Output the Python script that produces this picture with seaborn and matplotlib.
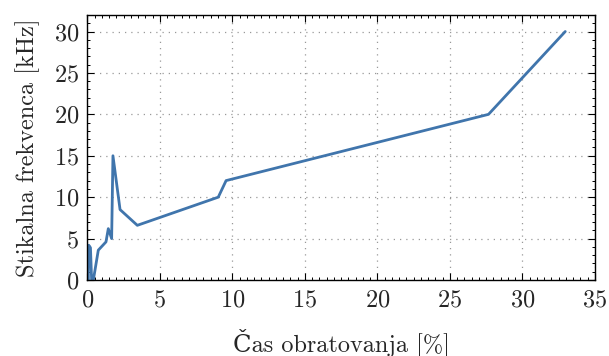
import matplotlib
matplotlib.use("Agg")
import matplotlib.pyplot as plt
import seaborn as sns
import pandas as pd
from matplotlib.ticker import MultipleLocator

duty = [0.0, 0.05, 0.1, 0.22, 0.3, 0.42, 0.76, 1.29, 1.45, 1.68, 1.77, 2.26, 3.45, 9.03, 9.57, 27.66, 32.95]
freq = [4.2, 0.0, 4.2, 3.9, 0.0, 0.0, 3.6, 4.6, 6.2, 5.0, 15.0, 8.5, 6.6, 10.0, 12.0, 20.0, 30.0]
xticks = [0, 5, 10, 15, 20, 25, 30, 35]
yticks = [0, 5, 10, 15, 20, 25, 30]

sns.set_style("white")
plt.rcParams['font.family'] = ['cmr10', 'DejaVu Serif']
plt.rcParams['mathtext.fontset'] = 'cm'
plt.rcParams['axes.formatter.use_mathtext'] = True

df = pd.DataFrame({"x": duty, "y": freq})

fig = plt.figure(figsize=(6.09, 3.56), dpi=100)
ax = fig.add_axes([0.1433, 0.2135, 0.977 - 0.1433, 0.958 - 0.2135])
sns.lineplot(data=df, x="x", y="y", ax=ax, color="#4075ac", linewidth=2.0, sort=False)

ax.set_xlim(0, 35)
ax.set_ylim(0, 32)
ax.set_xticks(xticks)
ax.set_yticks(yticks)
ax.xaxis.set_minor_locator(MultipleLocator(0.5))
ax.yaxis.set_minor_locator(MultipleLocator(1))
ax.tick_params(which='both', direction='in', top=True, right=True, bottom=True, left=True, labelsize=17.5, color='black')
ax.tick_params(which='major', length=5, width=0.8)
ax.tick_params(which='minor', length=2.5, width=0.7)
ax.grid(True, which='major', linestyle=(0, (1, 4)), color='#999999', linewidth=0.9)
for s in ax.spines.values():
    s.set_color('black')
    s.set_linewidth(1.0)
ax.set_xlabel("Čas obratovanja [%]", fontsize=17.5, labelpad=12)
ax.set_ylabel("Stikalna frekvenca [kHz]", fontsize=17.5, labelpad=10)
ax.tick_params(axis='x', pad=7)
ax.tick_params(axis='y', pad=6)

fig.savefig("out.png", dpi=100)
